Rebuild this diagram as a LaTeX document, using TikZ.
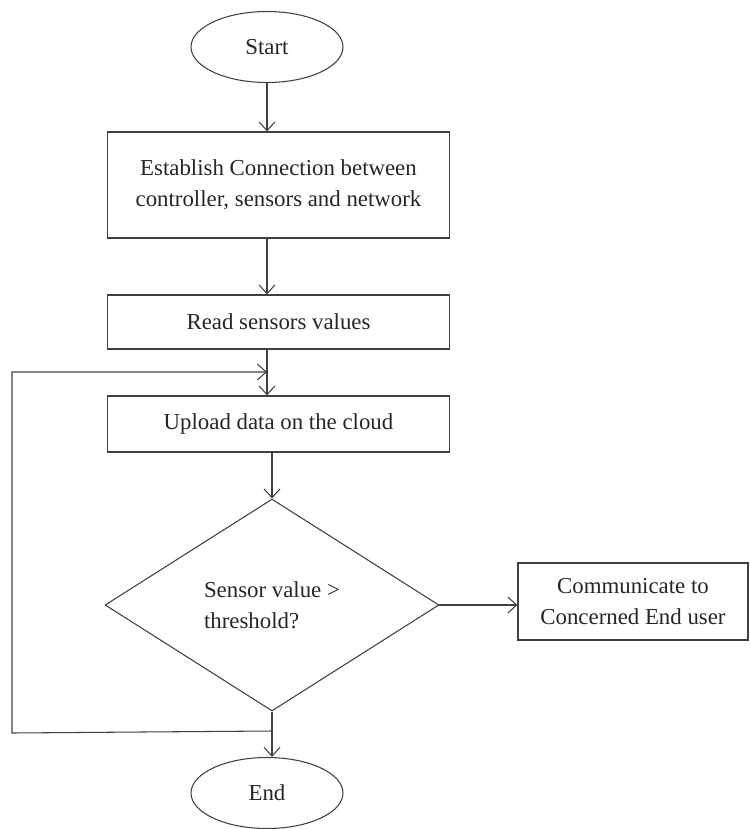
\documentclass[tikz,border=0pt]{standalone}
\usepackage{fontspec}
\setmainfont{Liberation Serif}
\usetikzlibrary{shapes.geometric,arrows.meta}

\begin{document}
\begin{tikzpicture}[x=0.02cm, y=-0.02cm,
    font=\fontsize{13}{17.5}\selectfont,
    line width=0.6pt,
    every node/.style={draw=black!75, text=black!85, fill=white},
    terminal/.style={ellipse, minimum width=3.04cm, minimum height=1.42cm},
    process/.style={rectangle, align=center, minimum width=6.86cm},
    decision/.style={diamond, minimum width=6.68cm, minimum height=4.24cm, inner sep=0pt, align=left},
    arr/.style={->, draw=black!75, >={Straight Barb[length=5pt, width=9pt]}}]
    
    \useasboundingbox (0,0) rectangle (750,829);
    
    % Draw the start and end
    \node[terminal] (start) at (267, 47) {Start};
    \node[terminal] (end) at (267, 793) {End};
    
    % Draw the steps
    \node[process, minimum height=2.12cm] (connect) at (278.5, 185) {Establish Connection between\\controller, sensors and network};
    \node[process, minimum height=1.08cm] (read) at (278.5, 322) {Read sensors values};
    \node[process, minimum height=1.12cm] (upload) at (278.5, 424) {Upload data on the cloud};
    
    % Draw the check
    \node[decision] (check) at (272, 605) {Sensor value >\\threshold?};
    \node[process, minimum width=4.6cm, minimum height=1.54cm] (notify) at (633, 601.5) {Communicate to\\Concerned End user};
    
    % Draw connections
    \draw[arr] (start) -- (start |- connect.north);
    \draw[arr] (start |- connect.south) -- (start |- read.north);
    \draw[arr] (start |- read.south) -- (start |- upload.north);
    \draw[arr] (check.north |- upload.south) -- (check.north);
    \draw[arr] (check.east) -- (check.east -| notify.west);
    \draw[arr] (check.south) -- (check.south |- end.north);
    
    % Loop back
    \coordinate (loopout) at (272, 731);
    \coordinate (loopin) at (267, 372);
    \draw[arr] (loopout) -- (12, 733) |- (loopin);
    
\end{tikzpicture}
\end{document}
